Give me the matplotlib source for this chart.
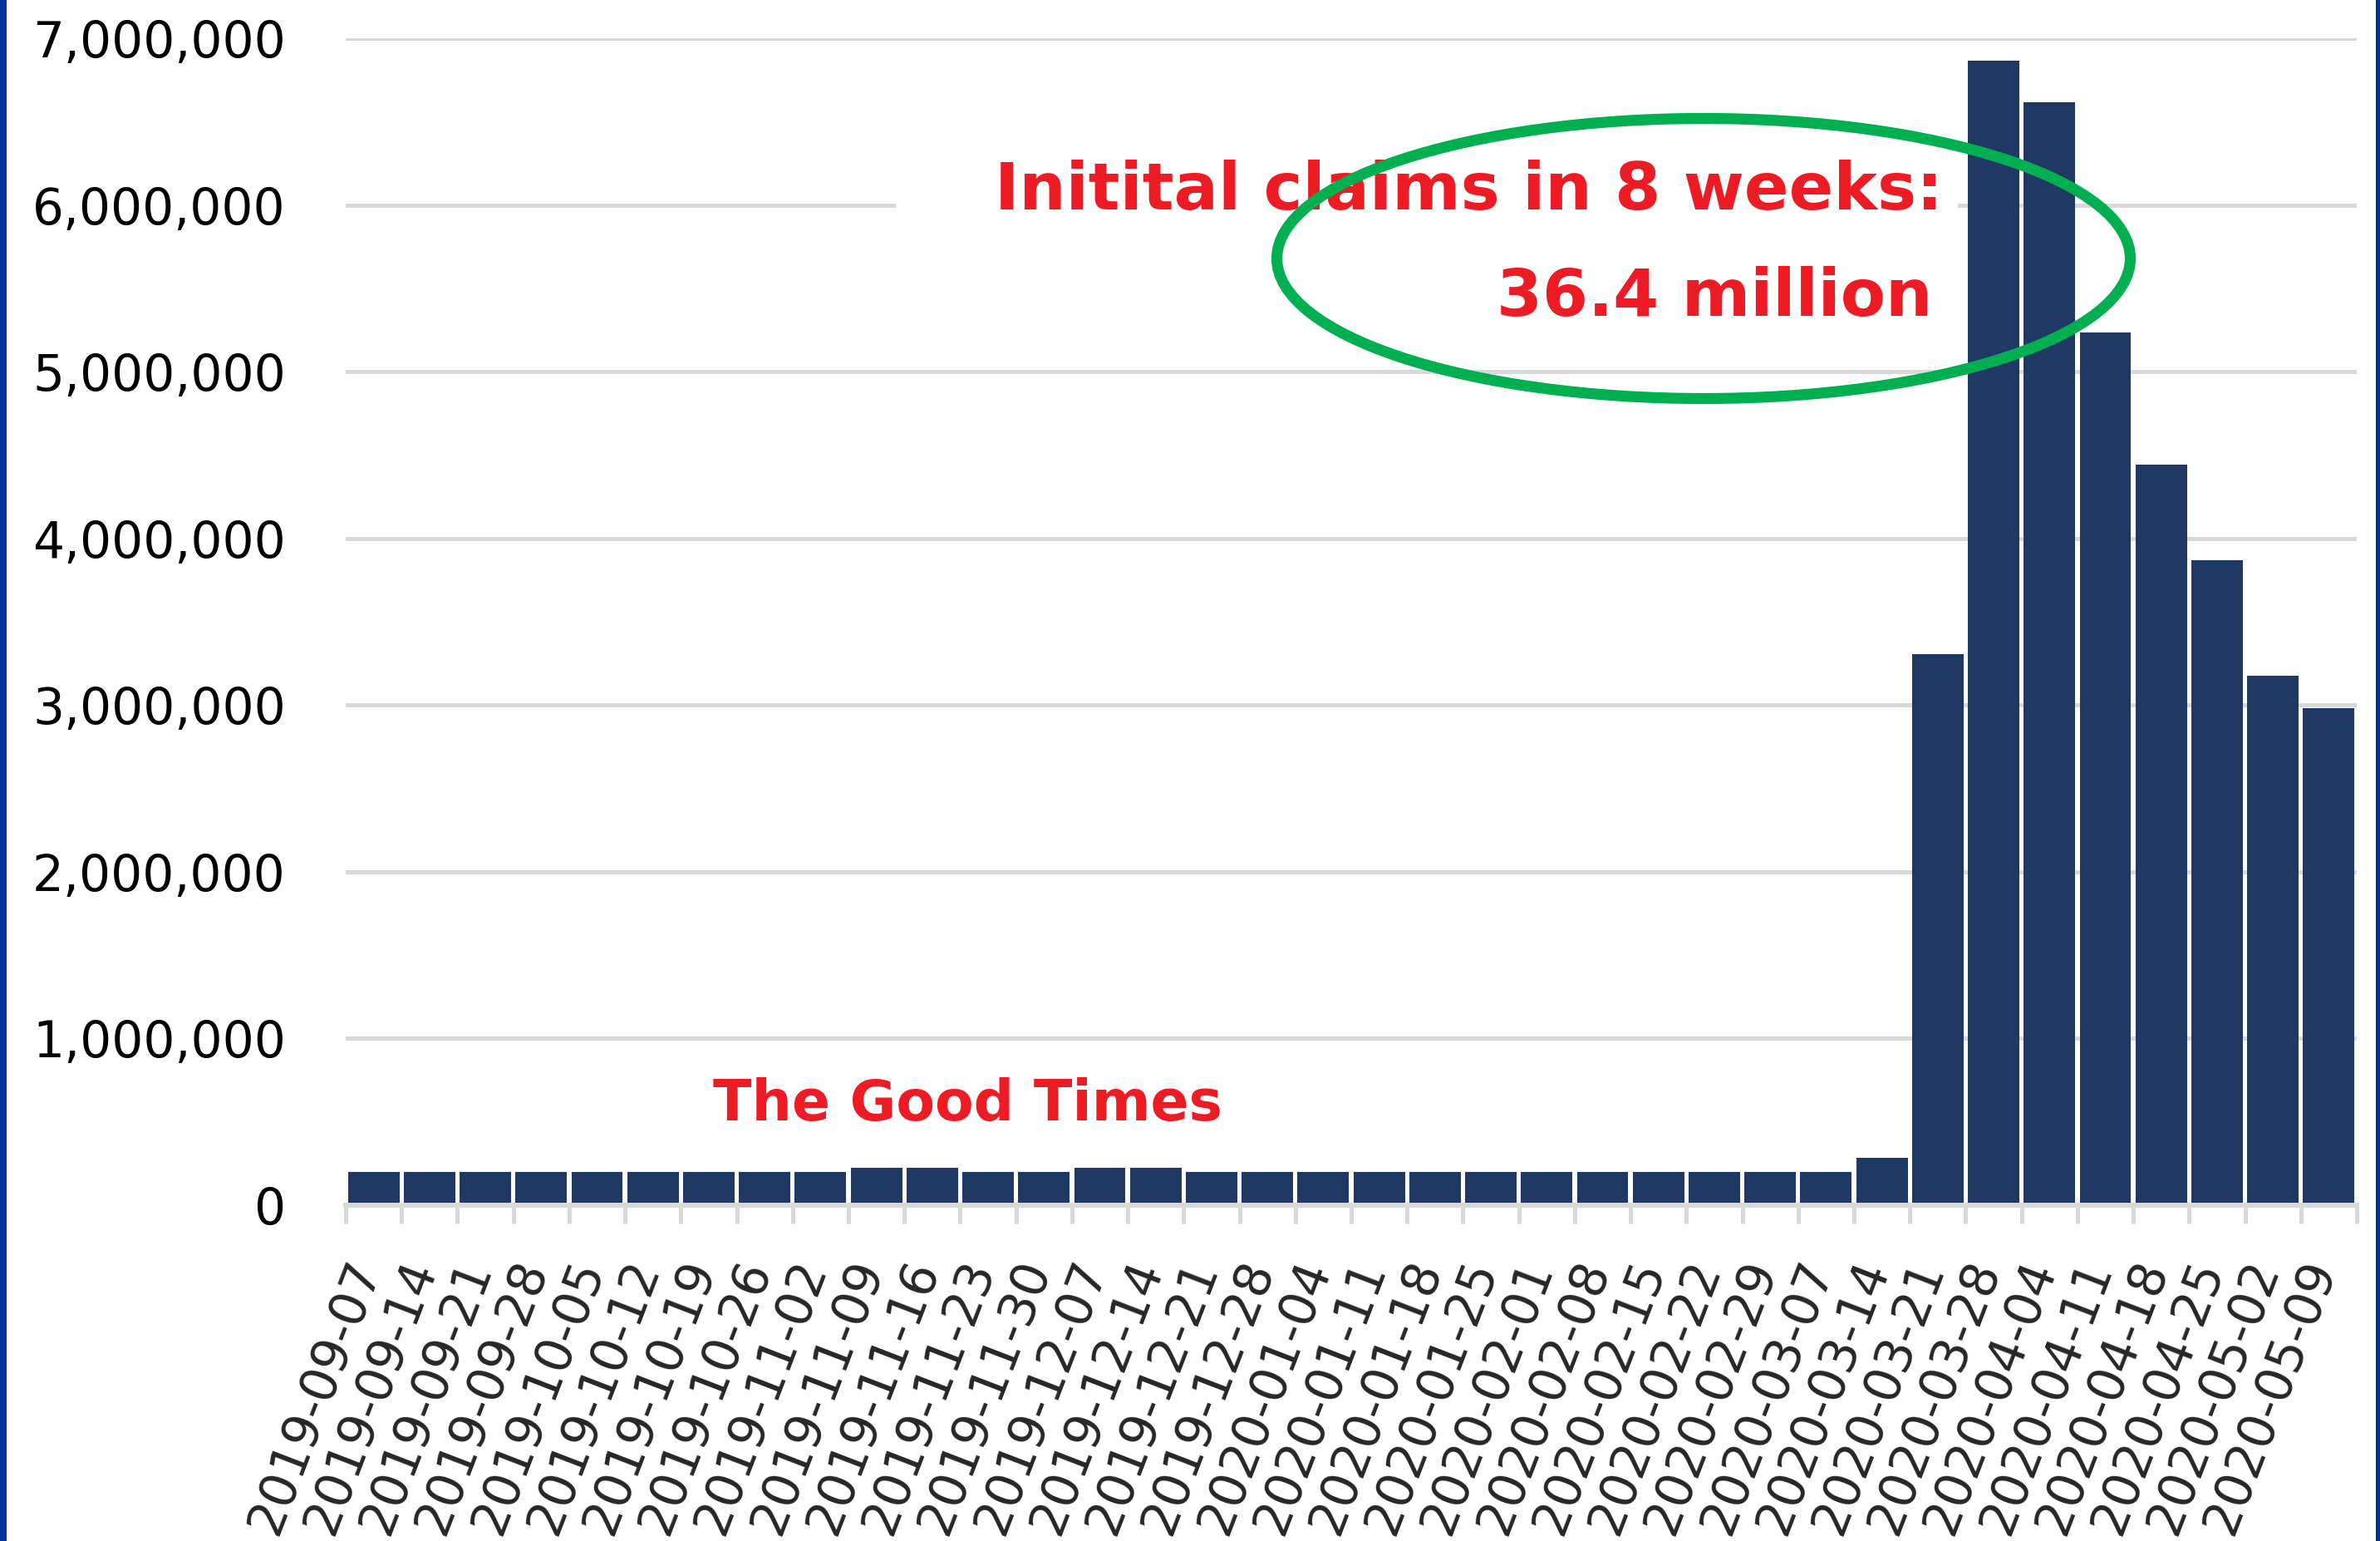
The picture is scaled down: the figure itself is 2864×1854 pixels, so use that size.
import matplotlib
matplotlib.use("Agg")
import matplotlib.pyplot as plt
import matplotlib.transforms as mtransforms
from matplotlib.patches import Ellipse, Rectangle
from matplotlib.ticker import FuncFormatter

# weekly initial claims
weeks = ["2019-09-07", "2019-09-14", "2019-09-21", "2019-09-28",
         "2019-10-05", "2019-10-12", "2019-10-19", "2019-10-26",
         "2019-11-02", "2019-11-09", "2019-11-16", "2019-11-23", "2019-11-30",
         "2019-12-07", "2019-12-14", "2019-12-21", "2019-12-28",
         "2020-01-04", "2020-01-11", "2020-01-18", "2020-01-25",
         "2020-02-01", "2020-02-08", "2020-02-15", "2020-02-22", "2020-02-29",
         "2020-03-07", "2020-03-14", "2020-03-21", "2020-03-28",
         "2020-04-04", "2020-04-11", "2020-04-18", "2020-04-25",
         "2020-05-02", "2020-05-09"]
claims = [200000, 200000, 200000, 200000,
          200000, 200000, 200000, 200000,
          200000, 224000, 224000, 200000, 200000,
          224000, 224000, 200000, 200000,
          200000, 200000, 200000, 200000,
          200000, 200000, 200000, 200000, 200000,
          200000, 283000, 3307000, 6867000,
          6615000, 5237000, 4442000, 3867000,
          3176000, 2981000]
y_ticks = [0, 1000000, 2000000, 3000000, 4000000, 5000000, 6000000, 7000000]

W, H = 2864, 1854
BAR = "#203864"
GRID = "#d9d9d9"
RED = "#ed1c24"
GREEN = "#00b050"

fig = plt.figure(figsize=(W / 100, H / 100), dpi=100)
ax = fig.add_axes([416 / W, 1 - 1450 / H, 2420 / W, (1450 - 46) / H])

x = list(range(len(weeks)))
ax.bar(x, claims, width=0.92, color=BAR, zorder=2)

ax.set_xlim(-0.5, len(weeks) - 0.5)
ax.set_ylim(0, 7000000)
ax.set_yticks(y_ticks)
ax.yaxis.set_major_formatter(FuncFormatter(lambda v, p: f"{int(v):,}"))
ax.set_axisbelow(True)
ax.yaxis.grid(True, color=GRID, linewidth=3.6)

for s in ["top", "right", "left"]:
    ax.spines[s].set_visible(False)
ax.spines["bottom"].set_color(GRID)
ax.spines["bottom"].set_linewidth(4.3)

ax.tick_params(axis="y", length=0, pad=52, labelsize=43, labelcolor="black")

# labels at bar centres, tick marks on the category boundaries
ax.set_xticks(x)
ax.set_xticklabels(weeks, rotation=69, ha="right", va="center",
                   rotation_mode="anchor", fontsize=43, color="#262626")
ax.tick_params(axis="x", which="major", length=0, pad=49)
ax.set_xticks([i - 0.5 for i in range(len(weeks) + 1)], minor=True)
ax.tick_params(axis="x", which="minor", length=16, width=3.6, color=GRID)
shift = mtransforms.ScaledTranslation(-8 / 100, 0, fig.dpi_scale_trans)
for lab in ax.get_xticklabels():
    lab.set_transform(lab.get_transform() + shift)

# white text box hiding part of the 6M gridline
fig.add_artist(Rectangle((1078 / W, 1 - 420 / H), (2356 - 1078) / W, (420 - 150) / H,
                         transform=fig.transFigure, facecolor="white",
                         edgecolor="none", zorder=1))
fig.text(2338 / W, 1 - 252 / H, "Initital claims in 8 weeks:", ha="right",
         va="baseline", fontsize=57, fontweight="bold", color=RED, zorder=2)
fig.text(2325 / W, 1 - 380 / H, "36.4 million", ha="right",
         va="baseline", fontsize=57, fontweight="bold", color=RED, zorder=2)
fig.add_artist(Ellipse((2050 / W, 1 - 311 / H), 1027 / W, 337 / H,
                       transform=fig.transFigure, fill=False,
                       edgecolor=GREEN, linewidth=9.5, zorder=3))

fig.text(858 / W, 1 - 1348 / H, "The Good Times", ha="left", va="baseline",
         fontsize=49, fontweight="bold", color=RED)

# blue frame edges
fig.add_artist(Rectangle((0, 0), 8 / W, 1, transform=fig.transFigure,
                         facecolor="#003399", edgecolor="none", zorder=5))
fig.add_artist(Rectangle((1 - 5 / W, 0), 5 / W, 1, transform=fig.transFigure,
                         facecolor="#003399", edgecolor="none", zorder=5))

fig.savefig("out.png", dpi=100)
